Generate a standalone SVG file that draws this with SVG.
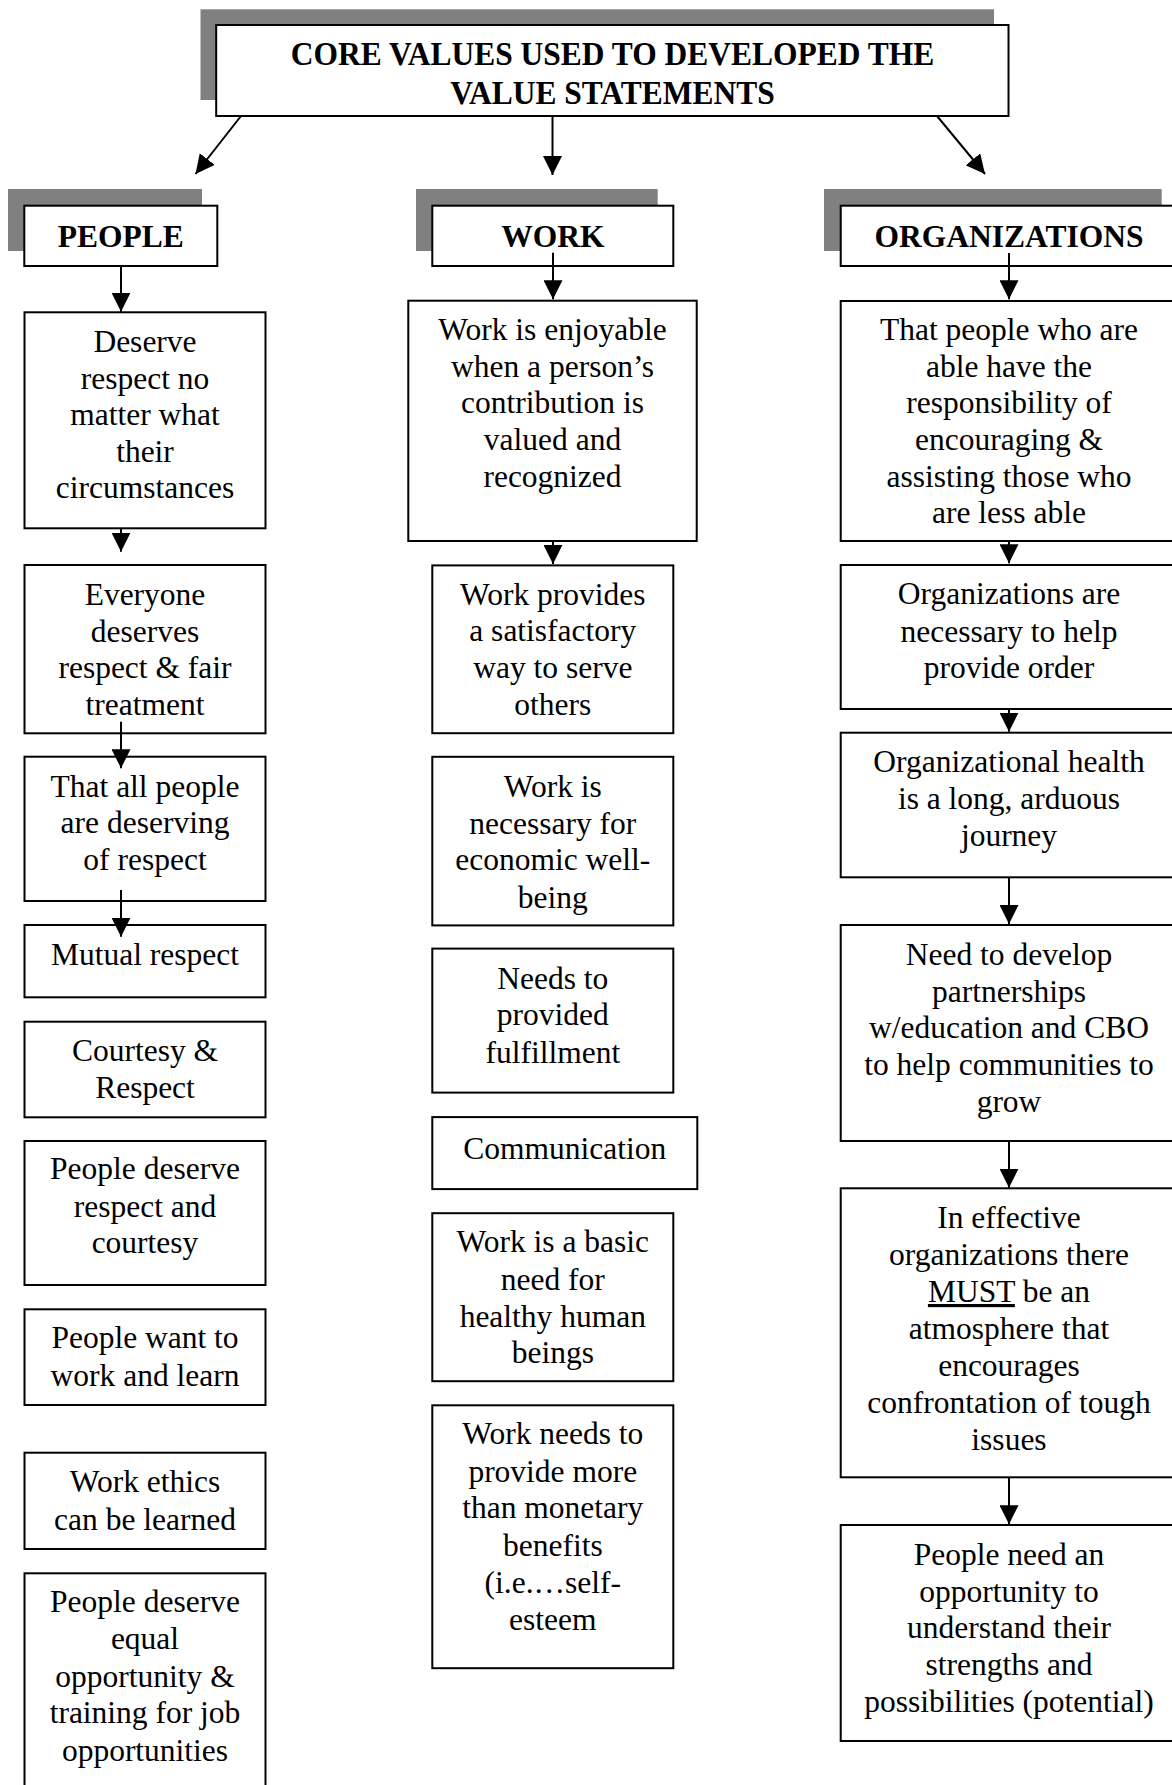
<svg xmlns="http://www.w3.org/2000/svg" width="1172" height="1785" viewBox="0 0 1172 1785">
<style>
.bg{fill:#fff}
.box{fill:#fff;stroke:#000;stroke-width:2}
.shadow{fill:#808080}
.t{font-family:"Liberation Serif","Times New Roman",serif;font-size:31.5px;text-anchor:middle;fill:#000}
.h{font-weight:bold}
.c{stroke:#000;stroke-width:2;fill:none;marker-end:url(#ah)}
.u{text-decoration:underline}
</style>
<defs>
<marker id="ah" viewBox="0 0 19 19" refX="19" refY="9.5" markerWidth="19" markerHeight="19" markerUnits="userSpaceOnUse" orient="auto"><path d="M0,0 L19,9.5 L0,19 z" fill="#000"/></marker>
</defs>
<rect class="bg" x="0" y="0" width="1172" height="1785"/>

<g id="title">
<rect class="shadow" x="200.5" y="9.3" width="793.5" height="90.7"/>
<rect class="box" x="216.2" y="25" width="792.3" height="91"/>
<text class="t h" transform="translate(612.5 65) scale(1 1.08)" x="0" y="0">CORE VALUES USED TO DEVELOPED THE</text>
<text class="t h" transform="translate(612.5 104) scale(1 1.08)" x="0" y="0">VALUE STATEMENTS</text>
</g>

<g id="people">
<rect class="shadow" x="8" y="189" width="194" height="62"/>
<rect class="box" x="24.3" y="205.7" width="193" height="60.3"/>
<text class="t h" x="120.8" y="246.7">PEOPLE</text>
</g>
<g id="work">
<rect class="shadow" x="416" y="189" width="241.7" height="62"/>
<rect class="box" x="432.3" y="205.7" width="241" height="60.3"/>
<text class="t h" x="553" y="246.7">WORK</text>
</g>
<g id="organizations">
<rect class="shadow" x="824" y="189" width="337.7" height="62"/>
<rect class="box" x="840.7" y="205.7" width="340" height="60.3"/>
<text class="t h" x="1009" y="246.7">ORGANIZATIONS</text>
</g>

<g id="p1"><rect class="box" x="24.5" y="312.3" width="241" height="216"/>
<text class="t"><tspan x="145" y="352.3">Deserve</tspan><tspan x="145" y="388.5">respect no</tspan><tspan x="145" y="425">matter what</tspan><tspan x="145" y="461.7">their</tspan><tspan x="145" y="498.3">circumstances</tspan></text></g>
<g id="p2"><rect class="box" x="24.5" y="565" width="241" height="168.3"/>
<text class="t"><tspan x="145" y="605">Everyone</tspan><tspan x="145" y="641.7">deserves</tspan><tspan x="145" y="678.3">respect &amp; fair</tspan><tspan x="145" y="715">treatment</tspan></text></g>
<g id="p3"><rect class="box" x="24.5" y="756.7" width="241" height="144.3"/>
<text class="t"><tspan x="145" y="796.7">That all people</tspan><tspan x="145" y="833.3">are deserving</tspan><tspan x="145" y="870">of respect</tspan></text></g>
<g id="p4"><rect class="box" x="24.5" y="925" width="241" height="72.3"/>
<text class="t" x="145" y="965">Mutual respect</text></g>
<g id="p5"><rect class="box" x="24.5" y="1021.7" width="241" height="95.6"/>
<text class="t"><tspan x="145" y="1060.7">Courtesy &amp;</tspan><tspan x="145" y="1098.3">Respect</tspan></text></g>
<g id="p6"><rect class="box" x="24.5" y="1141" width="241" height="144"/>
<text class="t"><tspan x="145" y="1179.3">People deserve</tspan><tspan x="145" y="1216.7">respect and</tspan><tspan x="145" y="1253.3">courtesy</tspan></text></g>
<g id="p7"><rect class="box" x="24.5" y="1309.3" width="241" height="95.7"/>
<text class="t"><tspan x="145" y="1348.3">People want to</tspan><tspan x="145" y="1386">work and learn</tspan></text></g>
<g id="p8"><rect class="box" x="24.5" y="1452.7" width="241" height="96.3"/>
<text class="t"><tspan x="145" y="1491.7">Work ethics</tspan><tspan x="145" y="1530">can be learned</tspan></text></g>
<g id="p9"><rect class="box" x="24.5" y="1573.3" width="241" height="220"/>
<text class="t"><tspan x="145" y="1611.7">People deserve</tspan><tspan x="145" y="1649.3">equal</tspan><tspan x="145" y="1686.7">opportunity &amp;</tspan><tspan x="145" y="1723.3">training for job</tspan><tspan x="145" y="1760.7">opportunities</tspan></text></g>

<g id="w1"><rect class="box" x="408.3" y="300.7" width="288.4" height="240.3"/>
<text class="t"><tspan x="552.5" y="340">Work is enjoyable</tspan><tspan x="552.5" y="376.7">when a person’s</tspan><tspan x="552.5" y="413.3">contribution is</tspan><tspan x="552.5" y="450">valued and</tspan><tspan x="552.5" y="486.7">recognized</tspan></text></g>
<g id="w2"><rect class="box" x="432.3" y="565.4" width="241" height="167.8"/>
<text class="t"><tspan x="552.8" y="604.6">Work provides</tspan><tspan x="552.8" y="641.4">a satisfactory</tspan><tspan x="552.8" y="678.2">way to serve</tspan><tspan x="552.8" y="714.6">others</tspan></text></g>
<g id="w3"><rect class="box" x="432.3" y="756.8" width="241" height="168.6"/>
<text class="t"><tspan x="552.8" y="796.8">Work is</tspan><tspan x="552.8" y="834.3">necessary for</tspan><tspan x="552.8" y="870">economic well-</tspan><tspan x="552.8" y="907.5">being</tspan></text></g>
<g id="w4"><rect class="box" x="432.3" y="948.6" width="241" height="144"/>
<text class="t"><tspan x="552.8" y="988.6">Needs to</tspan><tspan x="552.8" y="1025.4">provided</tspan><tspan x="552.8" y="1062.9">fulfillment</tspan></text></g>
<g id="w5"><rect class="box" x="432.3" y="1117.1" width="265" height="72"/>
<text class="t" x="564.8" y="1158.5">Communication</text></g>
<g id="w6"><rect class="box" x="432.3" y="1213.2" width="241" height="168"/>
<text class="t"><tspan x="552.8" y="1252.2">Work is a basic</tspan><tspan x="552.8" y="1289.7">need for</tspan><tspan x="552.8" y="1326.8">healthy human</tspan><tspan x="552.8" y="1363.2">beings</tspan></text></g>
<g id="w7"><rect class="box" x="432.3" y="1405.3" width="241" height="262.9"/>
<text class="t"><tspan x="552.8" y="1443.6">Work needs to</tspan><tspan x="552.8" y="1481.8">provide more</tspan><tspan x="552.8" y="1518.2">than monetary</tspan><tspan x="552.8" y="1555.7">benefits</tspan><tspan x="552.8" y="1592.8">(i.e.…self-</tspan><tspan x="552.8" y="1629.9">esteem</tspan></text></g>

<g id="o1"><rect class="box" x="840.7" y="301" width="340" height="240"/>
<text class="t"><tspan x="1009" y="340">That people who are</tspan><tspan x="1009" y="376.7">able have the</tspan><tspan x="1009" y="413.3">responsibility of</tspan><tspan x="1009" y="450">encouraging &amp;</tspan><tspan x="1009" y="486.7">assisting those who</tspan><tspan x="1009" y="523.3">are less able</tspan></text></g>
<g id="o2"><rect class="box" x="840.7" y="565" width="340" height="144"/>
<text class="t"><tspan x="1009" y="604">Organizations are</tspan><tspan x="1009" y="641.7">necessary to help</tspan><tspan x="1009" y="678.3">provide order</tspan></text></g>
<g id="o3"><rect class="box" x="840.7" y="732.7" width="340" height="144.6"/>
<text class="t"><tspan x="1009" y="772.3">Organizational health</tspan><tspan x="1009" y="809.3">is a long, arduous</tspan><tspan x="1009" y="846">journey</tspan></text></g>
<g id="o4"><rect class="box" x="840.7" y="925" width="340" height="216"/>
<text class="t"><tspan x="1009" y="965">Need to develop</tspan><tspan x="1009" y="1001.7">partnerships</tspan><tspan x="1009" y="1038.3">w/education and CBO</tspan><tspan x="1009" y="1075">to help communities to</tspan><tspan x="1009" y="1111.7">grow</tspan></text></g>
<g id="o5"><rect class="box" x="840.7" y="1188.3" width="340" height="289"/>
<text class="t"><tspan x="1009" y="1228">In effective</tspan><tspan x="1009" y="1265">organizations there</tspan><tspan x="1009" y="1302"><tspan class="u">MUST</tspan> be an</tspan><tspan x="1009" y="1339">atmosphere that</tspan><tspan x="1009" y="1376">encourages</tspan><tspan x="1009" y="1413">confrontation of tough</tspan><tspan x="1009" y="1450">issues</tspan></text></g>
<g id="o6"><rect class="box" x="840.7" y="1525" width="340" height="216"/>
<text class="t"><tspan x="1009" y="1565">People need an</tspan><tspan x="1009" y="1601.7">opportunity to</tspan><tspan x="1009" y="1638.3">understand their</tspan><tspan x="1009" y="1675">strengths and</tspan><tspan x="1009" y="1711.7">possibilities (potential)</tspan></text></g>

<g id="connectors">
<line class="c" x1="241" y1="116" x2="195.5" y2="174"/>
<line class="c" x1="552.5" y1="116" x2="552.5" y2="175"/>
<line class="c" x1="937" y1="116" x2="985" y2="174"/>
<line class="c" x1="121" y1="266" x2="121" y2="311.7"/>
<line class="c" x1="121" y1="528.3" x2="121" y2="551.7"/>
<line class="c" x1="121" y1="721.7" x2="121" y2="768.3"/>
<line class="c" x1="121" y1="890" x2="121" y2="936.7"/>
<line class="c" x1="553" y1="252.7" x2="553" y2="299.3"/>
<line class="c" x1="553" y1="541" x2="553" y2="563.9"/>
<line class="c" x1="1009" y1="253" x2="1009" y2="299.3"/>
<line class="c" x1="1009" y1="541" x2="1009" y2="563.3"/>
<line class="c" x1="1009" y1="709" x2="1009" y2="731.7"/>
<line class="c" x1="1009" y1="877.3" x2="1009" y2="924"/>
<line class="c" x1="1009" y1="1141" x2="1009" y2="1187.7"/>
<line class="c" x1="1009" y1="1477.3" x2="1009" y2="1524.3"/>
</g>
</svg>
